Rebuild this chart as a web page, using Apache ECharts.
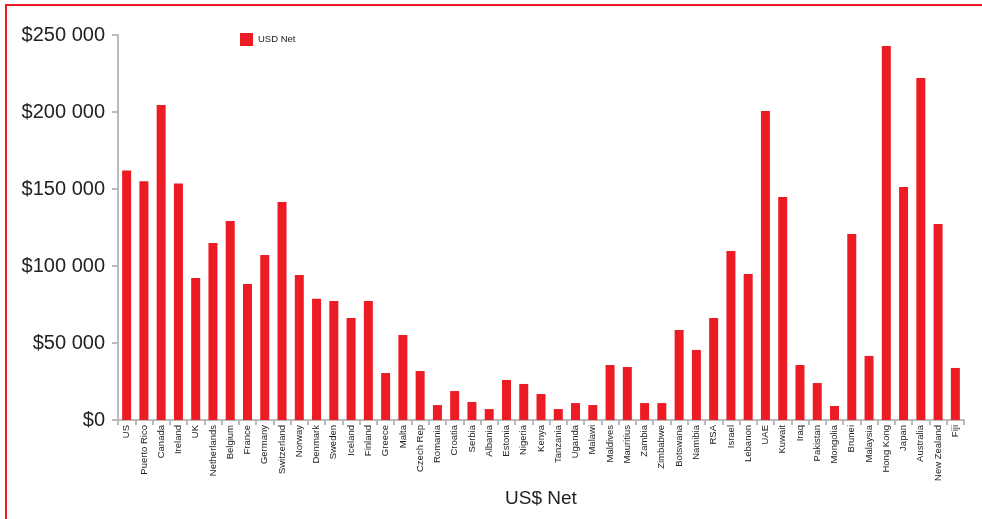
<!DOCTYPE html>
<html>
<head>
<meta charset="utf-8">
<script src="https://cdn.jsdelivr.net/npm/echarts@6/dist/echarts.min.js"></script>
<style>
html,body{margin:0;padding:0;background:#fff;overflow:hidden;}
#frame{position:absolute;left:5px;top:4px;width:1100px;height:700px;border-left:2px solid #ed1c24;border-top:2px solid #ed1c24;}
#chart{position:absolute;left:0;top:0;width:982px;height:519px;}
</style>
</head>
<body>
<div id="frame"></div>
<div id="chart"></div>
<script>
const categories = ["US","Puerto Rico","Canada","Ireland","UK","Netherlands","Belgium","France","Germany","Switzerland","Norway","Denmark","Sweden","Iceland","Finland","Greece","Malta","Czech Rep","Romania","Croatia","Serbia","Albania","Estonia","Nigeria","Kenya","Tanzania","Uganda","Malawi","Maldives","Mauritius","Zambia","Zimbabwe","Botswana","Namibia","RSA","Israel","Lebanon","UAE","Kuwait","Iraq","Pakistan","Mongolia","Brunei","Malaysia","Hong Kong","Japan","Australia","New Zealand","Fiji"];
const usdNet = [162000,155000,204500,153500,92200,114900,129200,88300,107200,141600,94200,78800,77300,66200,77300,30500,55200,31800,9700,18800,11700,7100,26000,23400,16900,7100,11000,9700,35700,34400,11000,11000,58400,45500,66200,109700,94800,200700,144800,35700,24000,9100,120800,41600,242900,151300,222100,127300,33800];
const yTicks = {min:0, max:250000, interval:50000};

const chart = echarts.init(document.getElementById('chart'));
const font = '"Liberation Sans Narrow","Arial Narrow","Liberation Sans",sans-serif';
chart.setOption({
  animation:false,
  textStyle:{fontFamily:font},
  legend:{
    data:['USD Net'], left:240, top:33, padding:0, itemWidth:13, itemHeight:13, itemGap:6,
    textStyle:{fontFamily:font, fontSize:9.5, color:'#222'}, icon:'rect'
  },
  grid:{left:118, right:18, top:35, bottom:99, containLabel:false},
  xAxis:{
    type:'category', data:categories,
    name:'US$ Net', nameLocation:'middle', nameGap:61,
    nameTextStyle:{fontFamily:font, fontSize:19, color:'#222', verticalAlign:'top'},
    axisLine:{lineStyle:{color:'#bbb', width:2}},
    axisTick:{show:true, length:5, alignWithLabel:false, lineStyle:{color:'#bbb', width:2}},
    axisLabel:{rotate:90, interval:0, fontSize:9.5, color:'#222', margin:5, fontFamily:font}
  },
  yAxis:{
    type:'value', min:yTicks.min, max:yTicks.max, interval:yTicks.interval,
    axisLine:{show:true, lineStyle:{color:'#bbb', width:2}},
    axisTick:{show:true, length:6, lineStyle:{color:'#bbb', width:2}},
    splitLine:{show:false},
    axisLabel:{fontSize:20, color:'#222', margin:13, fontFamily:font,
      formatter:function(v){ if(v===0) return '$0'; return '$' + Math.round(v/1000) + ' 000'; }}
  },
  series:[{
    name:'USD Net', type:'bar', data:usdNet, barWidth:9,
    itemStyle:{color:'#ed1c24'}
  }]
});
</script>
</body>
</html>
